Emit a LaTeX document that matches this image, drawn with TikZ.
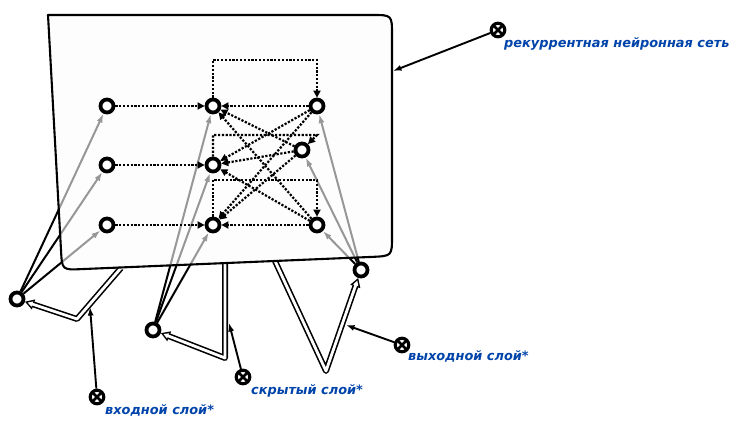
\documentclass[tikz,border=0pt]{standalone}
\usepackage{fontspec}
\newfontfamily\lblfont{DejaVu Sans}[BoldItalicFont={DejaVu Sans Bold Oblique}]
\usetikzlibrary{arrows.meta}
\definecolor{lblue}{HTML}{0044AA}
\definecolor{boxfill}{HTML}{FCFCFC}
\pgfdeclarelayer{lines}\pgfdeclarelayer{boxl}
\pgfsetlayers{lines,boxl,main}
\newcommand\hollowarr[1]{%
  \draw[line width=6pt, line join=round, -{Triangle[length=9pt,width=10pt]}] #1;
  \draw[white, line width=2.8pt, line join=round, shorten >=2.8pt, -{Triangle[length=5pt,width=5.2pt]}] #1;}
\begin{document}
\begin{tikzpicture}[x=1pt,y=-1pt,
  unit/.style={circle, draw, line width=3.8pt, fill=white, minimum size=13pt, inner sep=0pt},
  marker/.style={circle, draw, line width=3.2pt, fill=white, minimum size=13.5pt, inner sep=0pt,
    path picture={\draw[line width=2.5pt] (path picture bounding box.north west)--(path picture bounding box.south east)
      (path picture bounding box.north east)--(path picture bounding box.south west);}},
  feed/.style={line width=2pt, -{Latex[length=9pt,width=6pt]}},
  rec/.style={line width=2.2pt, dash pattern=on 2.2pt off 1.6pt, -{Triangle[length=7pt,width=7pt]}},
  ptr/.style={line width=1.9pt, -{Latex[length=8.5pt,width=6pt]}},
  lbltext/.style={text=lblue, font=\lblfont\bfseries\itshape\fontsize{12.9}{14}\selectfont, anchor=base west, inner sep=0pt}
]
\useasboundingbox (0,0) rectangle (739,427);

% units
\node[unit] (a1) at (107,106) {};
\node[unit] (a2) at (107,165) {};
\node[unit] (a3) at (107,225) {};
\node[unit] (b1) at (213,106) {};
\node[unit] (b2) at (213,165) {};
\node[unit] (b3) at (213,225) {};
\node[unit] (c1) at (317,106) {};
\node[unit] (c2) at (302,150) {};
\node[unit] (c3) at (317,225) {};
\node[unit] (in) at (17,299) {};
\node[unit] (hid) at (153,330) {};
\node[unit] (out) at (361,270) {};

% feed-forward connections (under the semi-transparent box)
\begin{pgfonlayer}{lines}
  \foreach \t in {a1,a2,a3} \draw[feed] (in) -- (\t);
  \foreach \t in {b1,b2,b3} \draw[feed] (hid) -- (\t);
  \foreach \t in {c1,c2,c3} \draw[feed] (out) -- (\t);
  \hollowarr{(121,268) -- (77,319) -- (in)}
  \hollowarr{(225,264) -- (225,358) -- (hid)}
  \hollowarr{(275,261) -- (326,371) -- (out)}
\end{pgfonlayer}

% box
\begin{pgfonlayer}{boxl}
  \draw[line width=2.1pt, fill=boxfill, fill opacity=0.6, line join=round]
    (48,15) -- (372,15) .. controls (392,15) .. (392,35)
    -- (392,236) .. controls (392,256) .. (372,256.9)
    -- (82,269.1) .. controls (62,270) .. (61,250) -- cycle;
\end{pgfonlayer}

% recurrent / dotted connections
\draw[rec] (a1) -- (b1);
\draw[rec] (a2) -- (b2);
\draw[rec] (a3) -- (b3);
\draw[rec] (c1) -- (b1);
\draw[rec] (c3) -- (b3);
\draw[rec] (b1.north) |- (317,60) -- (c1.north);
\draw[rec] (b2.north) |- (317,135) -- (c2);
\draw[rec] (b3.north) |- (317,180) -- (c3.north);
\draw[rec] (c1) -- (b2);
\draw[rec] (c1) -- (b3);
\draw[rec] (c2) -- (b1);
\draw[rec] (c2) -- (b2);
\draw[rec] (c2) -- (b3);
\draw[rec] (c3) -- (b1);
\draw[rec] (c3) -- (b2);

% markers and labels
\node[marker] (m1) at (498,30) {};
\node[marker] (m2) at (402,345) {};
\node[marker] (m3) at (243,377) {};
\node[marker] (m4) at (97,397) {};
\coordinate (t1) at (393,71);
\coordinate (t2) at (346,325);
\coordinate (t3) at (229,323);
\coordinate (t4) at (90,307);
\draw[ptr] (m1) -- (t1);
\draw[ptr] (m2) -- (t2);
\draw[ptr] (m3) -- (t3);
\draw[ptr] (m4) -- (t4);
\node[lbltext] (l1) at (504,48) {рекуррентная нейронная сеть};
\node[lbltext] (l2) at (408,361) {выходной слой*};
\node[lbltext] (l3) at (251,395) {скрытый слой*};
\node[lbltext] (l4) at (105,415) {входной слой*};
\end{tikzpicture}
\end{document}
